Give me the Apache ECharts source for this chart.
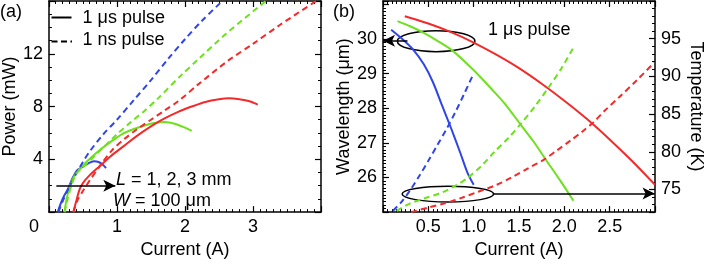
<!DOCTYPE html>
<html><head><meta charset="utf-8">
<script src="https://cdn.jsdelivr.net/npm/echarts@6/dist/echarts.min.js"></script>
<style>html,body{margin:0;padding:0;background:#fff}#c{width:706px;height:264px}</style>
</head><body><div id="c"></div>
<script>
// ---------- Panel (a): Power vs Current ----------
const aBlueUsI  = [0.13,0.17,0.22,0.28,0.35,0.42,0.5,0.58,0.66,0.73,0.79,0.84];
const aBlueUsP  = [0,0.6,1.2,1.75,2.6,3.2,3.45,3.7,3.85,3.8,3.6,3.33];
const aGreenUsI = [0.23,0.26,0.31,0.38,0.45,0.55,0.7,0.9,1.07,1.25,1.4,1.55,1.7,1.85,2.0,2.1];
const aGreenUsP = [0,1.0,2.0,2.8,3.25,3.8,4.5,5.3,5.9,6.3,6.55,6.75,6.82,6.7,6.4,6.15];
const aRedUsI   = [0.36,0.4,0.45,0.5,0.6,0.75,0.9,1.1,1.3,1.5,1.7,1.9,2.1,2.3,2.5,2.65,2.8,2.95,3.07];
const aRedUsP   = [0,0.8,1.7,2.2,2.8,3.5,4.2,5.0,5.8,6.5,7.1,7.6,8.0,8.35,8.55,8.62,8.55,8.4,8.15];
const aBlueNsI  = [0.14,0.2,0.3,0.4,0.5,0.6,0.8,1.0,1.25,1.5,1.75,2.0,2.25,2.55];
const aBlueNsP  = [0,0.8,1.9,2.9,3.8,4.6,5.9,7.0,8.5,10.0,11.6,13.1,14.5,16];
const aGreenNsI = [0.23,0.27,0.33,0.4,0.5,0.7,1.0,1.2,1.4,1.6,1.95,2.2,2.6,3.19];
const aGreenNsP = [0,0.9,2.0,2.9,3.4,4.4,5.9,6.8,7.65,8.6,10.4,11.6,13.5,16];
const aRedNsI   = [0.36,0.42,0.5,0.6,0.75,0.93,1.1,1.3,1.5,1.7,1.9,2.2,2.64,3.0,3.4,3.93];
const aRedNsP   = [0,0.9,1.6,2.4,3.5,4.7,5.5,6.3,7.0,7.7,8.4,9.7,11.5,12.75,14.2,16];

// ---------- Panel (b): Wavelength / Temperature vs Current ----------
const bBlueWlI  = [0.09,0.2,0.33,0.45,0.55,0.65,0.75,0.85,0.93,1.0];
const bBlueWl   = [30.27,30.03,29.70,29.27,28.76,28.09,27.43,26.73,26.15,25.79];
const bGreenWlI = [0.16,0.3,0.44,0.6,0.76,0.9,1.05,1.2,1.36,1.52,1.66,1.8,1.95,2.1];
const bGreenWl  = [30.52,30.37,30.19,29.95,29.68,29.35,28.97,28.55,28.08,27.52,27.04,26.50,25.93,25.33];
const bRedWlI   = [0.24,0.5,0.75,1.0,1.25,1.5,1.75,2.0,2.25,2.5,2.75,3.0];
const bRedWl    = [30.66,30.45,30.20,29.90,29.55,29.16,28.71,28.22,27.69,27.10,26.47,25.79];
const bBlueTI   = [0.11,0.2,0.3,0.4,0.5,0.6,0.7,0.8,0.9,1.0];
const bBlueT    = [72.17,73.3,74.9,76.8,78.8,80.9,83.0,85.3,87.8,90.4];
const bGreenTI  = [0.15,0.29,0.45,0.65,0.8,0.94,1.1,1.23,1.38,1.52,1.68,1.83,1.97,2.1];
const bGreenT   = [72.17,73.1,73.8,74.6,75.5,76.6,78.3,80.0,81.8,83.7,86.1,88.6,91.1,93.8];
const bRedTI    = [0.31,0.5,0.69,0.87,1.05,1.25,1.42,1.6,1.78,1.92,2.07,2.2,2.32,2.45,2.61,2.8,2.99];
const bRedT     = [72.0,72.6,73.2,73.9,74.7,75.6,76.6,77.8,79.0,80.2,81.5,82.7,83.9,85.5,87.3,89.5,91.8];

const legendNames = ['1 μs pulse', '1 ns pulse'];

const FONT = 'Liberation Sans, Arial, Helvetica, sans-serif';
const BLUE = '#2f45e8', GREEN = '#6ee01e', RED = '#f22a2a';
const DASH = [6, 4];
const pts = (xs, ys) => xs.map((x, i) => [x, ys[i]]);

function axis(o, minorSplit) {
  return Object.assign({
    type: 'value',
    axisLine: {show: true, onZero: false, lineStyle: {color: '#000', width: 1.5}},
    axisTick: {show: true, inside: true, length: 6, lineStyle: {color: '#000', width: 1.2}},
    minorTick: {show: true, splitNumber: minorSplit, length: 3, lineStyle: {color: '#000', width: 1}},
    splitLine: {show: false},
    minorSplitLine: {show: false},
    nameTextStyle: {color: '#000', fontSize: 18, fontFamily: FONT},
  }, o);
}
const lab = (extra) => Object.assign({color: '#000', fontSize: 18, fontFamily: FONT, margin: 6}, extra || {});
const noLab = {show: false};

function line(name, data, color, dashed, xi, yi, extra) {
  return Object.assign({
    type: 'line', name: name, data: data, xAxisIndex: xi, yAxisIndex: yi,
    symbol: 'none', smooth: 0.3, clip: true, silent: true, animation: false,
    lineStyle: {color: color, width: 2, type: dashed ? DASH : 'solid'},
    itemStyle: {color: color}
  }, extra || {});
}
function arrowML(x1, y1, x2, y2) {
  return {
    silent: true, animation: false, symbol: ['none', 'arrow'], symbolSize: [9, 12],
    label: {show: false}, lineStyle: {color: '#000', width: 1.5, type: 'solid'},
    itemStyle: {color: '#000'},
    data: [[{coord: [x1, y1]}, {coord: [x2, y2]}]]
  };
}

const chart = echarts.init(document.getElementById('c'), null, {renderer: 'canvas'});
const option = {
  animation: false,
  backgroundColor: '#fff',
  grid: [
    {left: 42, top: 1, width: 279, height: 217},
    {left: 383, top: 1, width: 276, height: 217}
  ],
  xAxis: [
    axis({gridIndex: 0, position: 'bottom', min: 0, max: 4, interval: 1,
      name: 'Current (A)', nameLocation: 'middle', nameGap: 27,
      axisLabel: lab({showMaxLabel: false,
        formatter: v => v === 0 ? '{o|0}' : String(v),
        rich: {o: {padding: [0, 30, 0, 0], fontSize: 18, color: '#000', fontFamily: FONT}}})}, 10),
    axis({gridIndex: 0, position: 'top', min: 0, max: 4, interval: 1, axisLabel: noLab}, 10),
    axis({gridIndex: 1, position: 'bottom', min: 0, max: 3, interval: 0.5,
      name: 'Current (A)', nameLocation: 'middle', nameGap: 25,
      axisLabel: lab({showMinLabel: false, showMaxLabel: false, formatter: v => v.toFixed(1)})}, 10),
    axis({gridIndex: 1, position: 'top', min: 0, max: 3, interval: 0.5, axisLabel: noLab}, 10)
  ],
  yAxis: [
    axis({gridIndex: 0, position: 'left', min: 0, max: 16, interval: 4,
      name: 'Power (mW)', nameLocation: 'middle', nameGap: 23,
      axisLabel: lab({showMinLabel: false, showMaxLabel: false})}, 4),
    axis({gridIndex: 0, position: 'right', min: 0, max: 16, interval: 4, axisLabel: noLab}, 4),
    axis({gridIndex: 1, position: 'left', min: 25, max: 31.1, interval: 1,
      name: 'Wavelength (μm)', nameLocation: 'middle', nameGap: 30,
      axisLabel: lab({showMinLabel: false, showMaxLabel: false,
        formatter: v => (v > 30.5 ? '' : String(v))})}, 10),
    axis({gridIndex: 1, position: 'right', min: 72, max: 100,
      name: 'Temperature (K)', nameLocation: 'middle', nameGap: 32, nameRotate: -90,
      axisLabel: lab({showMinLabel: false, showMaxLabel: false})}, 5)
  ],
  series: [
    line('a-blue-us', pts(aBlueUsI, aBlueUsP), BLUE, false, 0, 0),
    line('a-green-us', pts(aGreenUsI, aGreenUsP), GREEN, false, 0, 0),
    line('a-red-us', pts(aRedUsI, aRedUsP), RED, false, 0, 0, {markLine: arrowML(0.109, 1.99, 0.976, 1.99)}),
    line('a-blue-ns', pts(aBlueNsI, aBlueNsP), BLUE, true, 0, 0),
    line('a-green-ns', pts(aGreenNsI, aGreenNsP), GREEN, true, 0, 0),
    line('a-red-ns', pts(aRedNsI, aRedNsP), RED, true, 0, 0),
    line('b-blue-wl', pts(bBlueWlI, bBlueWl), BLUE, false, 2, 2, {markLine: arrowML(0.27, 29.95, 0.0, 29.95)}),
    line('b-green-wl', pts(bGreenWlI, bGreenWl), GREEN, false, 2, 2),
    line('b-red-wl', pts(bRedWlI, bRedWl), RED, false, 2, 2),
    line('b-blue-t', pts(bBlueTI, bBlueT), BLUE, true, 2, 3),
    line('b-green-t', pts(bGreenTI, bGreenT), GREEN, true, 2, 3),
    line('b-red-t', pts(bRedTI, bRedT), RED, true, 2, 3, {markLine: arrowML(1.21, 74.47, 2.995, 74.47)})
  ]
};
chart.setOption(option);

const e1 = chart.convertToPixel({xAxisIndex: 2, yAxisIndex: 2}, [0.586, 29.94]);
const e2 = chart.convertToPixel({xAxisIndex: 2, yAxisIndex: 2}, [0.716, 25.52]);
const txt = (x, y, text, extra) => ({
  type: 'text', x: x, y: y, silent: true,
  style: Object.assign({text: text, fill: '#000', fontSize: 18, fontFamily: FONT,
    align: 'left', verticalAlign: 'middle',
    rich: {i: {fontStyle: 'italic', fontSize: 18, fontFamily: FONT, fill: '#000'}}}, extra || {})
});
chart.setOption({
  graphic: [
    txt(0, 12, '(a)'),
    txt(333, 12, '(b)'),
    // legend of panel (a)
    {type: 'line', silent: true, shape: {x1: 51.5, y1: 17.5, x2: 71.5, y2: 17.5},
      style: {stroke: '#000', lineWidth: 2}},
    txt(82.5, 18.5, legendNames[0]),
    {type: 'line', silent: true, shape: {x1: 51.5, y1: 41.5, x2: 72, y2: 41.5},
      style: {stroke: '#000', lineWidth: 2, lineDash: [6, 3.5]}},
    txt(82.5, 40.5, legendNames[1]),
    txt(488, 30, '1 μs pulse'),
    txt(116, 180, '{i|L} = 1, 2, 3 mm'),
    txt(113, 201, '{i|W} = 100 μm'),
    {type: 'ellipse', silent: true, shape: {cx: e1[0], cy: e1[1], rx: 38.8, ry: 10.5},
      style: {fill: 'none', stroke: '#000', lineWidth: 1.5}},
    {type: 'ellipse', silent: true, shape: {cx: e2[0], cy: e2[1], rx: 45.8, ry: 7.8},
      style: {fill: 'none', stroke: '#000', lineWidth: 1.5}}
  ]
});
</script>
</body></html>
